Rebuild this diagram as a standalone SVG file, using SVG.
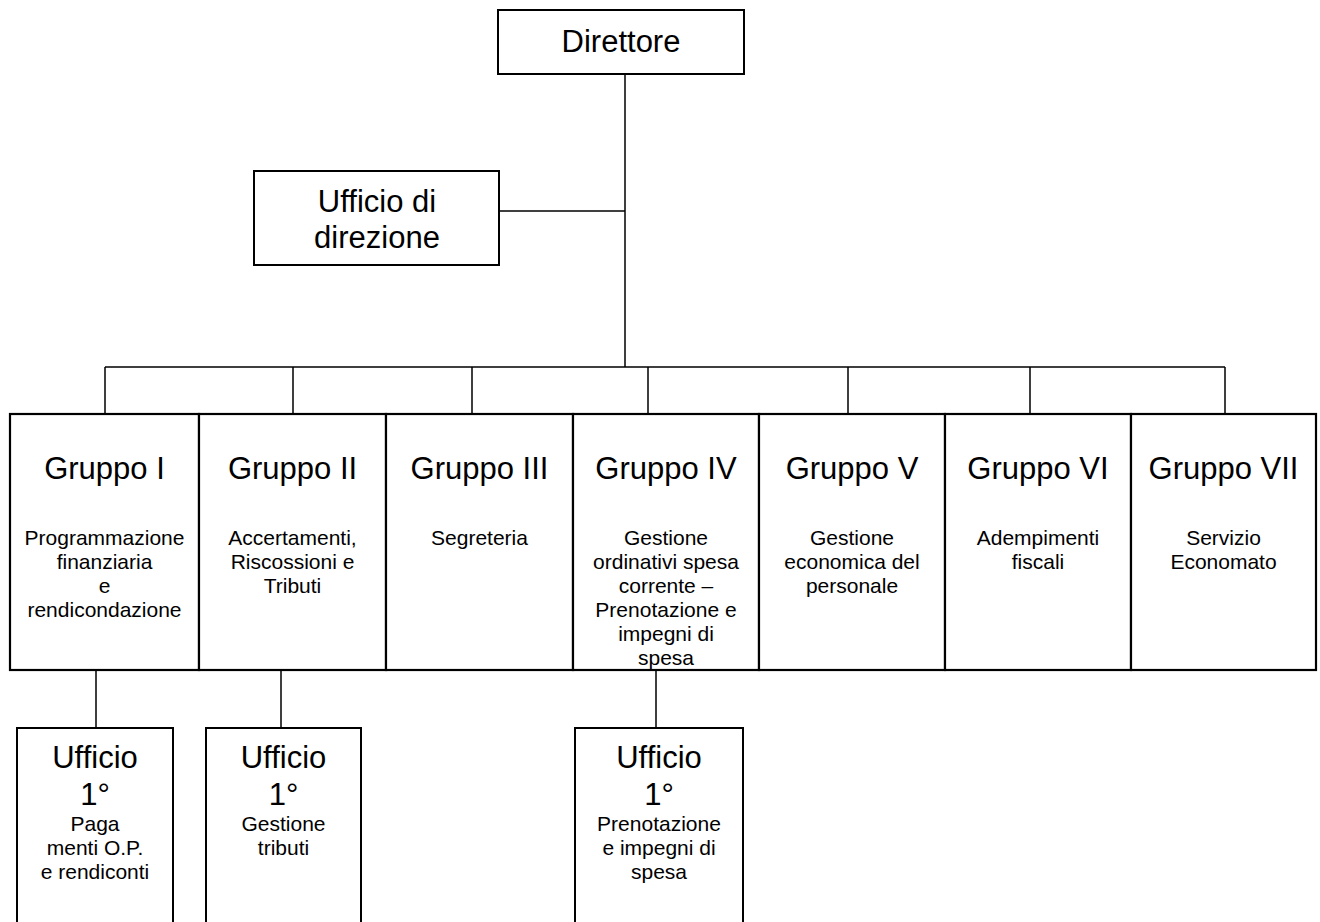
<svg xmlns="http://www.w3.org/2000/svg" width="1320" height="922" viewBox="0 0 1320 922">
<style>
.bx{fill:#fff;stroke:#000;stroke-width:2}
.gb{fill:#fff;stroke:#000;stroke-width:2.2}
.ln{fill:none;stroke:#000;stroke-width:1.5}
text{font-family:"Liberation Sans",Arial,sans-serif;fill:#000;text-anchor:middle}
.big{font-size:31px}
.sm{font-size:21px}
</style>
<rect width="1320" height="922" fill="#fff"/>
<g id="connectors">
<path class="ln" d="M625,74 V367 M499,211 H625 M105,367 H1225 M105,367 V414 M293,367 V414 M472,367 V414 M648,367 V414 M848,367 V414 M1030,367 V414 M1225,367 V414 M96,670 V728 M281,670 V728 M656,670 V728"/>
</g>
<g id="direttore">
<rect class="bx" x="498" y="10" width="246" height="64"/>
<text class="big" x="621" y="52">Direttore</text>
</g>
<g id="ufficio-direzione">
<rect class="bx" x="254" y="171" width="245" height="94"/>
<text class="big" x="377" y="212">Ufficio di</text>
<text class="big" x="377" y="248">direzione</text>
</g>
<g id="gruppo1">
<rect class="gb" x="10" y="414" width="189" height="256"/>
<text class="big" x="104.5" y="479">Gruppo I</text>
<text class="sm" x="104.5" y="545">Programmazione</text>
<text class="sm" x="104.5" y="569">finanziaria</text>
<text class="sm" x="104.5" y="593">e</text>
<text class="sm" x="104.5" y="617">rendicondazione</text>
</g>
<g id="gruppo2">
<rect class="gb" x="199" y="414" width="187" height="256"/>
<text class="big" x="292.5" y="479">Gruppo II</text>
<text class="sm" x="292.5" y="545">Accertamenti,</text>
<text class="sm" x="292.5" y="569">Riscossioni e</text>
<text class="sm" x="292.5" y="593">Tributi</text>
</g>
<g id="gruppo3">
<rect class="gb" x="386" y="414" width="187" height="256"/>
<text class="big" x="479.5" y="479">Gruppo III</text>
<text class="sm" x="479.5" y="545">Segreteria</text>
</g>
<g id="gruppo4">
<rect class="gb" x="573" y="414" width="186" height="256"/>
<text class="big" x="666" y="479">Gruppo IV</text>
<text class="sm" x="666" y="545">Gestione</text>
<text class="sm" x="666" y="569">ordinativi spesa</text>
<text class="sm" x="666" y="593">corrente –</text>
<text class="sm" x="666" y="617">Prenotazione e</text>
<text class="sm" x="666" y="641">impegni di</text>
<text class="sm" x="666" y="665">spesa</text>
</g>
<g id="gruppo5">
<rect class="gb" x="759" y="414" width="186" height="256"/>
<text class="big" x="852" y="479">Gruppo V</text>
<text class="sm" x="852" y="545">Gestione</text>
<text class="sm" x="852" y="569">economica del</text>
<text class="sm" x="852" y="593">personale</text>
</g>
<g id="gruppo6">
<rect class="gb" x="945" y="414" width="186" height="256"/>
<text class="big" x="1038" y="479">Gruppo VI</text>
<text class="sm" x="1038" y="545">Adempimenti</text>
<text class="sm" x="1038" y="569">fiscali</text>
</g>
<g id="gruppo7">
<rect class="gb" x="1131" y="414" width="185" height="256"/>
<text class="big" x="1223.5" y="479">Gruppo VII</text>
<text class="sm" x="1223.5" y="545">Servizio</text>
<text class="sm" x="1223.5" y="569">Economato</text>
</g>
<g id="ufficio-g1">
<rect class="bx" x="17" y="728" width="156" height="210"/>
<text class="big" x="95" y="768">Ufficio</text>
<text class="big" x="95" y="805">1°</text>
<text class="sm" x="95" y="831">Paga</text>
<text class="sm" x="95" y="855">menti O.P.</text>
<text class="sm" x="95" y="879">e rendiconti</text>
</g>
<g id="ufficio-g2">
<rect class="bx" x="206" y="728" width="155" height="210"/>
<text class="big" x="283.5" y="768">Ufficio</text>
<text class="big" x="283.5" y="805">1°</text>
<text class="sm" x="283.5" y="831">Gestione</text>
<text class="sm" x="283.5" y="855">tributi</text>
</g>
<g id="ufficio-g4">
<rect class="bx" x="575" y="728" width="168" height="210"/>
<text class="big" x="659" y="768">Ufficio</text>
<text class="big" x="659" y="805">1°</text>
<text class="sm" x="659" y="831">Prenotazione</text>
<text class="sm" x="659" y="855">e impegni di</text>
<text class="sm" x="659" y="879">spesa</text>
</g>
</svg>
